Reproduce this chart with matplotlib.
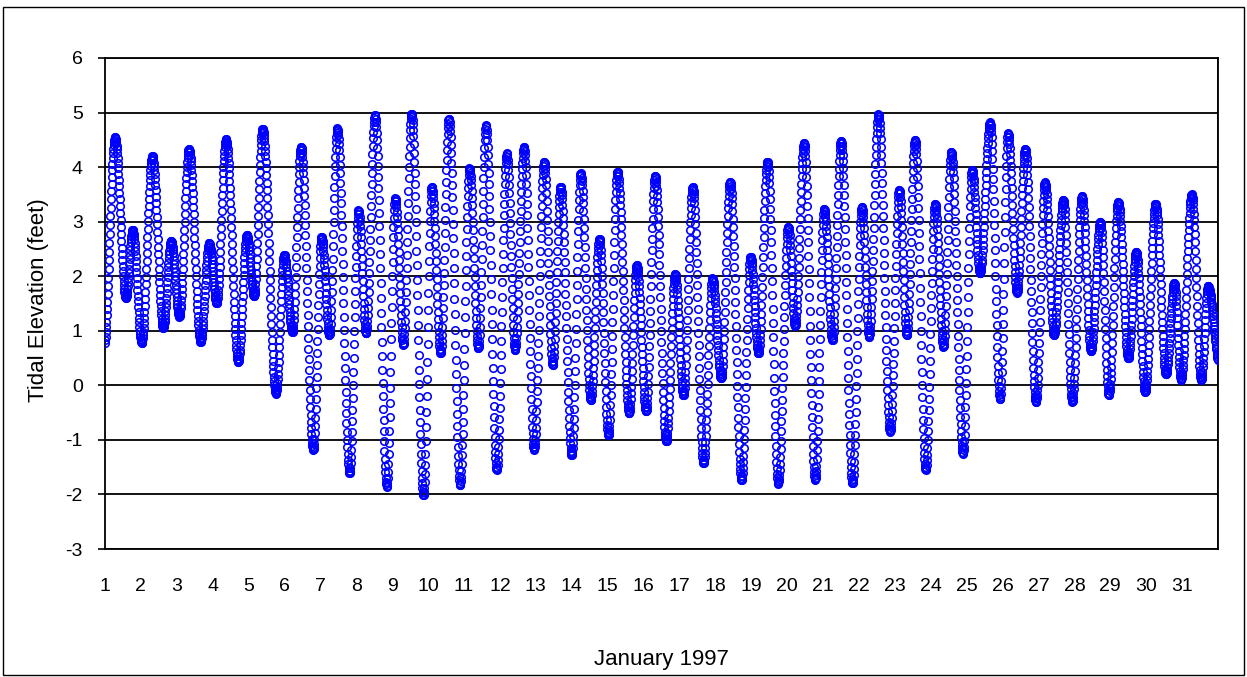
import numpy as np
import matplotlib
matplotlib.use("Agg")
import matplotlib.pyplot as plt
from matplotlib.patches import Rectangle

plt.rcParams["font.family"] = ["Liberation Sans", "DejaVu Sans"]

# Tide turning points: time (day of January 1997) and elevation (feet)
turn_day = [0.97, 1.28, 1.58, 1.77, 2.02, 2.32, 2.62, 2.84, 3.07, 3.34,
            3.66, 3.90, 4.11, 4.37, 4.71, 4.95, 5.15, 5.39, 5.76, 5.99,
            6.22, 6.46, 6.80, 7.03, 7.25, 7.47, 7.81, 8.06, 8.27, 8.52,
            8.85, 9.08, 9.31, 9.54, 9.87, 10.10, 10.35, 10.58, 10.89, 11.15,
            11.40, 11.61, 11.91, 12.19, 12.42, 12.67, 12.95, 13.23, 13.47, 13.69,
            14.00, 14.25, 14.53, 14.77, 15.02, 15.27, 15.60, 15.81, 16.07, 16.32,
            16.63, 16.88, 17.11, 17.37, 17.67, 17.92, 18.16, 18.41, 18.73, 18.98,
            19.20, 19.45, 19.75, 20.03, 20.22, 20.47, 20.78, 21.03, 21.26, 21.50,
            21.82, 22.08, 22.28, 22.54, 22.87, 23.12, 23.33, 23.56, 23.86, 24.12,
            24.35, 24.57, 24.90, 25.15, 25.37, 25.65, 25.93, 26.15, 26.40, 26.63,
            26.93, 27.18, 27.43, 27.69, 27.94, 28.21, 28.46, 28.72, 28.96, 29.22,
            29.50, 29.72, 29.97, 30.26, 30.55, 30.78, 30.97, 31.27, 31.53, 31.72,
            32.05]
turn_ft = [0.68, 4.55, 1.60, 2.85, 0.78, 4.20, 1.05, 2.65, 1.26, 4.33,
           0.80, 2.61, 1.50, 4.51, 0.43, 2.76, 1.63, 4.70, -0.15, 2.39,
           0.98, 4.37, -1.18, 2.72, 0.92, 4.71, -1.61, 3.21, 0.95, 4.96,
           -1.86, 3.43, 0.74, 4.98, -2.01, 3.64, 0.59, 4.89, -1.83, 3.98,
           0.68, 4.77, -1.55, 4.25, 0.65, 4.37, -1.18, 4.10, 0.37, 3.64,
           -1.28, 3.89, -0.27, 2.69, -0.91, 3.92, -0.51, 2.21, -0.48, 3.84,
           -1.03, 2.04, -0.18, 3.63, -1.43, 1.96, 0.13, 3.73, -1.73, 2.36,
           0.59, 4.10, -1.80, 2.91, 1.08, 4.44, -1.73, 3.23, 0.83, 4.48,
           -1.80, 3.27, 0.89, 4.97, -0.85, 3.59, 0.92, 4.50, -1.55, 3.32,
           0.71, 4.28, -1.25, 3.95, 2.05, 4.82, -0.25, 4.62, 1.70, 4.33,
           -0.30, 3.72, 0.92, 3.40, -0.30, 3.47, 0.62, 3.00, -0.18, 3.36,
           0.50, 2.45, -0.12, 3.33, 0.20, 1.87, 0.10, 3.50, 0.10, 1.82,
           0.35]

day_ticks = list(range(1, 32))
elev_ticks = list(range(-3, 7))
x_title = "January 1997"
y_title = "Tidal Elevation (feet)"

# 12-minute record rebuilt between the turning points (half-cosine tide curve)
td = np.array(turn_day)
tv = np.array(turn_ft)
t = np.arange(1.0, 32.0, 1.0 / 120.0)
k = np.clip(np.searchsorted(td, t) - 1, 0, len(td) - 2)
f = (t - td[k]) / (td[k + 1] - td[k])
elev = tv[k] + (tv[k + 1] - tv[k]) * (1 - np.cos(np.pi * f)) / 2

W, H = 1247, 677
fig = plt.figure(figsize=(W / 100, H / 100), dpi=100)
fig.patch.set_facecolor("white")
fig.add_artist(Rectangle((3 / W, 2 / H), 1241 / W, 668 / H, transform=fig.transFigure,
                         fill=False, edgecolor="black", linewidth=1.0))

ax = fig.add_axes([105 / W, 1 - 549 / H, 1113 / W, 491 / H])
ax.plot(t, elev, linestyle="none", marker="o", markersize=5.4,
        markerfacecolor="none", markeredgecolor="#0000ff", markeredgewidth=1.15,
        zorder=3)

ax.set_xlim(1, 32)
ax.set_ylim(-3, 6)
ax.set_xticks(day_ticks)
ax.set_xticklabels([str(d) for d in day_ticks])
ax.set_xticks(range(1, 33), minor=True)
ax.set_yticks(elev_ticks)
ax.set_yticklabels([str(v) for v in elev_ticks])
ax.grid(True, which="minor", axis="x", color="black", linewidth=1.3)
ax.grid(True, which="major", axis="y", color="black", linewidth=1.3)
ax.tick_params(axis="x", which="both", length=0, pad=21, labelsize=14)
ax.tick_params(axis="y", length=5, width=1.2, direction="out", pad=11, labelsize=14)
for s in ax.spines.values():
    s.set_color("black")
    s.set_linewidth(1.3)

ax.set_xlabel(x_title, fontsize=16)
ax.xaxis.set_label_coords(0.5, (549 - 660) / 491)
ax.xaxis.label.set_va("center")
ax.set_ylabel(y_title, fontsize=16)
ax.yaxis.set_label_coords((39 - 105) / 1113, (549 - 300) / 491)
ax.yaxis.label.set_va("center")

fig.savefig("out.png", dpi=100, facecolor="white")
